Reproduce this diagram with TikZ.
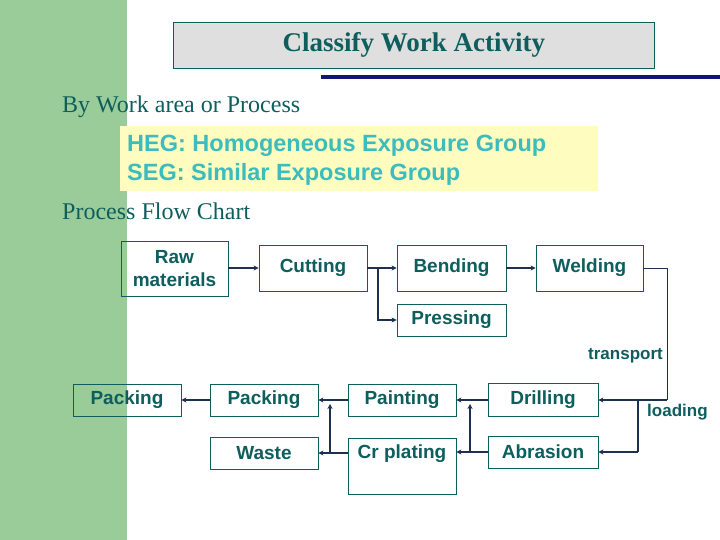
\documentclass[tikz,border=0pt]{standalone}
\usepackage{fontspec}
\setmainfont{Liberation Serif}
\setsansfont{Liberation Sans}
\usetikzlibrary{arrows.meta}
\definecolor{txt}{HTML}{0E5E5E}
\definecolor{ln}{HTML}{1F2F50}
\definecolor{grn}{HTML}{99CC99}
\definecolor{heg}{HTML}{3CBCBC}
\tikzset{
 box/.style={draw=txt,line width=0.8pt,text=txt,font=\sffamily\bfseries\fontsize{19}{23}\selectfont,inner sep=0pt,align=center},
 conn/.style={draw=ln,line width=1.6pt,-{Stealth[length=5pt,width=5pt]}},
 plain/.style={draw=ln,line width=1.6pt},
 thin/.style={draw=ln,line width=1pt},
 lab/.style={text=txt,font=\sffamily\bfseries\fontsize{17}{19}\selectfont,inner sep=0pt}
}
\begin{document}
\begin{tikzpicture}[x=1pt,y=-1pt]
\useasboundingbox (0,0) rectangle (720,540);
\fill[white] (0,0) rectangle (720,540);
\fill[grn] (0,0) rectangle (127,540);
% title
\node[draw=txt,fill=gray!25,line width=0.8pt,minimum width=481pt,minimum height=46pt,anchor=north west,text=txt,font=\bfseries\fontsize{27}{30}\selectfont] (title) at (173,22) {Classify Work Activity};
\fill[ln!60!blue!80!black] (321,75) rectangle (720,79);
\node[anchor=west,text=txt,font=\fontsize{24}{26}\selectfont,inner sep=0pt] (by) at (62,107) {By Work area or Process};
\node[fill=yellow!25,minimum width=478pt,minimum height=65pt,anchor=north west] (hegbox) at (120,126) {};
\node[anchor=west,text=heg,font=\sffamily\bfseries\fontsize{23.5}{29}\selectfont,align=left,inner sep=0pt] (hegtxt) at (127,160) {HEG: Homogeneous Exposure Group\\SEG: Similar Exposure Group};
\node[anchor=west,text=txt,font=\fontsize{24}{26}\selectfont,inner sep=0pt] (pfc) at (62,211) {Process Flow Chart};
% boxes
\node[box,minimum width=107pt,minimum height=55pt] (raw) at (174.5,268.5) {Raw\\materials};
\node[box,minimum width=108pt,minimum height=46pt] (cut) at (313,268) {Cutting};
\node[box,minimum width=109pt,minimum height=46pt] (bend) at (451.5,268) {Bending};
\node[box,minimum width=107pt,minimum height=46pt] (weld) at (589.5,268) {Welding};
\node[box,minimum width=109pt,minimum height=32pt] (press) at (451.5,320) {Pressing};
\node[box,minimum width=110pt,minimum height=33pt] (drill) at (543,400) {Drilling};
\node[box,minimum width=110pt,minimum height=32pt] (abr) at (543,452) {Abrasion};
\node[box,minimum width=108pt,minimum height=32pt] (paint) at (402,400) {Painting};
\node[box,minimum width=108pt,minimum height=56pt,anchor=north] (cr) at (402,438) {};
\node[text=txt,font=\sffamily\bfseries\fontsize{19}{23}\selectfont,inner sep=0pt] (crt) at (402,454) {Cr plating};
\node[box,minimum width=108pt,minimum height=32pt] (pack2) at (264,400) {Packing};
\node[box,minimum width=108pt,minimum height=32pt] (waste) at (264,453) {Waste};
\node[box,minimum width=108pt,minimum height=32pt] (pack1) at (127,400) {Packing};
\node[lab,anchor=east] (tr) at (663,356) {transport};
\node[lab,anchor=west] (ld) at (647,412) {loading};
% connectors
\draw[conn] (raw.east |- cut) -- (cut.west);
\draw[conn] (cut.east) -- (bend.west);
\draw[conn] (bend.east) -- (weld.west);
\coordinate (cb) at (378,268);
\draw[conn] (cb) |- (press.west);
\coordinate (wr) at (667,268);
\draw[thin] (weld.east) -- (wr) -- (wr |- drill);
\coordinate (br) at (638,400);
\draw[conn] (wr |- drill) -- (drill.east);
\draw[plain] (br) -- (br |- abr);
\draw[conn] (br |- abr) -- (abr.east);
\draw[conn] (drill.west) -- (paint.east);
\draw[conn] (abr.west) -- (abr.west -| cr.east);
\coordinate (v1) at (470,452);
\draw[conn] (v1) -- (470,404);
\draw[conn] (paint.west) -- (pack2.east);
\draw[conn] (cr.west |- waste) -- (waste.east);
\coordinate (v2) at (330,453);
\draw[conn] (v2) -- (330,404);
\draw[conn] (pack2.west) -- (pack1.east);
\end{tikzpicture}
\end{document}
